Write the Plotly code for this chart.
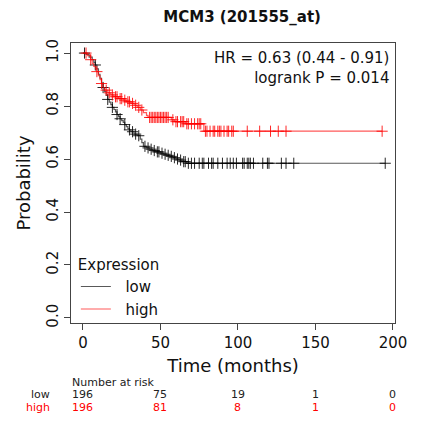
import plotly.graph_objects as go
import numpy as np

# ---- data ----
low_t = [0, 2, 4, 6, 7, 8, 9, 10, 11, 12, 13, 14, 15, 16, 17, 18, 19, 20, 21, 22, 23, 24, 25, 26,
         27, 28, 29, 30, 31, 33, 35, 37, 38, 39, 41, 43, 45, 47, 50, 52, 54, 56, 58, 60, 62, 64, 67]
low_s = [1.0, 0.995, 0.985, 0.975, 0.965, 0.955, 0.94, 0.92, 0.905, 0.886, 0.87, 0.855, 0.84, 0.825,
         0.815, 0.805, 0.795, 0.787, 0.778, 0.768, 0.76, 0.752, 0.745, 0.738, 0.73, 0.722, 0.715, 0.71,
         0.703, 0.694, 0.688, 0.675, 0.662, 0.648, 0.642, 0.637, 0.632, 0.627, 0.622, 0.618, 0.614,
         0.61, 0.605, 0.6, 0.596, 0.59, 0.584]
low_cens = [1, 8, 13, 16, 19, 22, 24, 27, 30, 32, 34, 36, 40, 42, 44, 46, 48, 49, 51, 53, 55, 57, 59,
            61, 63, 65, 66, 68, 70, 72, 75, 77, 78, 81, 83, 84, 87, 90, 93, 95, 97, 99, 103, 104, 106,
            107, 108, 110, 116, 119, 120, 128, 131, 136, 195]

high_t = [0, 3, 5, 6, 7, 8, 9, 10, 11, 12, 13, 14, 16, 18, 20, 23, 26, 28, 31, 33, 35, 37, 39, 41,
          42, 57, 59, 66, 78]
high_s = [1.0, 0.99, 0.975, 0.96, 0.95, 0.94, 0.93, 0.915, 0.9, 0.885, 0.87, 0.86, 0.85, 0.842,
          0.835, 0.828, 0.822, 0.816, 0.81, 0.803, 0.795, 0.785, 0.775, 0.765, 0.757, 0.748, 0.741,
          0.733, 0.705]
high_cens = [2, 5, 9, 12, 15, 17, 19, 21, 22, 24, 25, 27, 29, 30, 32, 34, 36, 38, 43, 44, 45, 46, 47,
             48, 49, 50, 51, 52, 53, 54, 55, 58, 60, 61, 63, 64, 65, 67, 68, 70, 72, 74, 75, 76, 79,
             80, 82, 84, 85, 87, 88, 89, 91, 93, 94, 96, 97, 106, 114, 121, 126, 131, 193]

risk_times = [0, 50, 100, 150, 200]
risk_low = [196, 75, 19, 1, 0]
risk_high = [196, 81, 8, 1, 0]

title = "MCM3 (201555_at)"
hr_text = "HR = 0.63 (0.44 - 0.91)<br>logrank P = 0.014"

FONT = "DejaVu Sans"
LOW_LINE = "rgba(0,0,0,0.65)"
HIGH_LINE = "rgba(255,0,0,0.65)"


def surv_at(ts, ss, t):
    idx = np.searchsorted(ts, t, side="right") - 1
    return ss[max(idx, 0)]


fig = go.Figure()
for name, ts, ss, cens, lc, mc in [
    ("low", low_t, low_s, low_cens, LOW_LINE, "rgba(0,0,0,0.85)"),
    ("high", high_t, high_s, high_cens, HIGH_LINE, "rgba(255,0,0,0.85)"),
]:
    xs = list(ts) + [max(cens)]
    ys = list(ss) + [ss[-1]]
    fig.add_trace(go.Scatter(x=xs, y=ys, mode="lines", line=dict(shape="hv", color=lc, width=1.2),
                             name="  " + name, showlegend=True))
    cy = [surv_at(ts, ss, c) for c in cens]
    fig.add_trace(go.Scatter(x=cens, y=cy, mode="markers", showlegend=False,
                             marker=dict(symbol="cross-thin", size=8, line=dict(color=mc, width=1))))

ann = []
ann.append(dict(text=hr_text, xref="paper", yref="paper", x=0.988, y=0.985, xanchor="right",
                yanchor="top", align="right", showarrow=False,
                font=dict(family=FONT, size=15, color="#111")))
ann.append(dict(text="Number at risk", xref="paper", yref="paper", x=-0.003, y=-0.211, xanchor="left",
                yanchor="middle", showarrow=False, font=dict(family=FONT, size=11, color="#222")))
ann.append(dict(text="low", xref="paper", yref="paper", x=-0.059, y=-0.254, xanchor="right",
                yanchor="middle", showarrow=False, font=dict(family=FONT, size=11, color="#222")))
ann.append(dict(text="high", xref="paper", yref="paper", x=-0.059, y=-0.3, xanchor="right",
                yanchor="middle", showarrow=False, font=dict(family=FONT, size=11, color="red")))
for t, a, b in zip(risk_times, risk_low, risk_high):
    ann.append(dict(text=str(a), xref="x", yref="paper", x=t, y=-0.254, xanchor="center",
                    yanchor="middle", showarrow=False, font=dict(family=FONT, size=11, color="#222")))
    ann.append(dict(text=str(b), xref="x", yref="paper", x=t, y=-0.3, xanchor="center",
                    yanchor="middle", showarrow=False, font=dict(family=FONT, size=11, color="red")))

fig.update_layout(
    width=424, height=421,
    margin=dict(l=71, r=29, t=43, b=98),
    plot_bgcolor="white", paper_bgcolor="white",
    font=dict(family=FONT, size=15, color="#111"),
    title=dict(text="<b>" + title + "</b>", x=0.571, xanchor="center", y=1 - 17 / 421,
               yanchor="middle", font=dict(family=FONT, size=15, color="#111")),
    xaxis=dict(range=[-7.7, 201.3], tickvals=[0, 50, 100, 150, 200], ticks="outside", ticklen=6,
               tickcolor="#444", showgrid=False, zeroline=False, showline=True, mirror=True,
               linecolor="#444", linewidth=1, title=dict(text="Time (months)", standoff=8),
               tickfont=dict(size=15)),
    yaxis=dict(range=[-0.019, 1.038], tickvals=[0, 0.2, 0.4, 0.6, 0.8, 1.0],
               ticktext=["0.0", "0.2", "0.4", "0.6", "0.8", "1.0"],
               ticks="outside", ticklen=6, tickcolor="#444", tickangle=-90, showgrid=False,
               zeroline=False, showline=True, mirror=True, linecolor="#444", linewidth=1,
               title=dict(text="Probability", standoff=8), tickfont=dict(size=15)),
    legend=dict(x=0.015, y=0.258, xanchor="left", yanchor="top", bgcolor="rgba(0,0,0,0)",
                title=dict(text="Expression", font=dict(size=15)), font=dict(size=15),
                tracegroupgap=0, itemwidth=30),
    annotations=ann,
)

fig.write_html("out.html")
